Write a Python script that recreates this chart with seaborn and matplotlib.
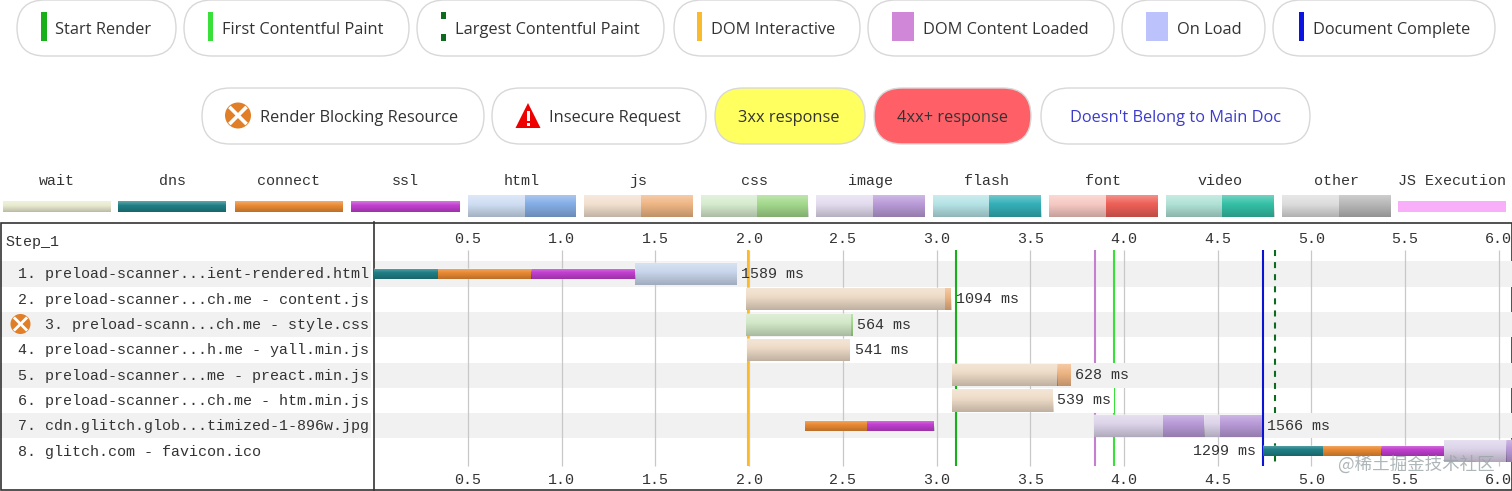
import numpy as np
import matplotlib
matplotlib.use("Agg")
import matplotlib.pyplot as plt
from matplotlib.patches import FancyBboxPatch, Rectangle, Circle, Polygon
from matplotlib.transforms import ScaledTranslation
import seaborn as sns

# ---------- data ----------
request_labels = [
    "1. preload-scanner...ient-rendered.html",
    "2. preload-scanner...ch.me - content.js",
    "   3. preload-scann...ch.me - style.css",
    "4. preload-scanner...h.me - yall.min.js",
    "5. preload-scanner...me - preact.min.js",
    "6. preload-scanner...ch.me - htm.min.js",
    "7. cdn.glitch.glob...timized-1-896w.jpg",
    "8. glitch.com - favicon.ico",
]
time_ticks = [0.5, 1.0, 1.5, 2.0, 2.5, 3.0, 3.5, 4.0, 4.5, 5.0, 5.5, 6.0]

segment_rows = [0, 0, 0, 0,
                1, 1,
                2, 2,
                3,
                4, 4,
                5,
                6, 6, 6, 6, 6, 6,
                7, 7, 7, 7, 7]
segment_kinds = ["dns", "connect", "ssl", "html",
                 "js", "js_dark",
                 "css", "css_dark",
                 "js",
                 "js", "js_dark",
                 "js",
                 "connect", "ssl", "image", "image_dark", "image", "image_dark",
                 "dns", "connect", "ssl", "image", "image_dark"]
segment_starts = [0.0, 0.338, 0.835, 1.391,
                  1.985, 3.043,
                  1.985, 2.545,
                  1.990,
                  3.082, 3.645,
                  3.082,
                  2.300, 2.627, 3.842, 4.210, 4.430, 4.515,
                  4.742, 5.060, 5.372, 5.708, 6.040]
segment_ends = [0.338, 0.835, 1.391, 1.934,
                3.043, 3.080,
                2.545, 2.552,
                2.537,
                3.645, 3.717,
                3.622,
                2.627, 2.985, 4.210, 4.430, 4.515, 4.737,
                5.060, 5.372, 5.708, 6.040, 6.075]

duration_labels = ["1589 ms", "1094 ms", "564 ms", "541 ms", "628 ms", "539 ms", "1566 ms", "1299 ms"]
duration_anchor = [1.934, 3.085, 2.557, 2.542, 3.717, 3.622, 4.742, 4.742]

event_names = ["DOM Interactive", "Start Render", "DOM Content Loaded", "First Contentful Paint", "Document Complete", "Largest Contentful Paint"]
event_times = [1.994, 3.105, 3.847, 3.949, 4.740, 4.804]
event_colors = ["#f9bb2d", "#18b018", "#c67fd0", "#39e039", "#0b14d0", "#0d6b1f"]

kind_colors = {
    "dns": "#1f7f86", "connect": "#ea8a33", "ssl": "#c23fd0",
    "html": "#c9d7ec", "js": "#eedcc8", "js_dark": "#efb684",
    "css": "#d3e9c8", "css_dark": "#a3d98c", "image": "#ddd4ea", "image_dark": "#b99bd8",
}

pill_row1 = ["Start Render", "First Contentful Paint", "Largest Contentful Paint", "DOM Interactive",
             "DOM Content Loaded", "On Load", "Document Complete"]
pill_row2 = ["Render Blocking Resource", "Insecure Request", "3xx response", "4xx+ response",
             "Doesn't Belong to Main Doc"]
swatch_names = ["wait", "dns", "connect", "ssl", "html", "js", "css", "image", "flash", "font", "video", "other", "JS Execution"]
swatch_light = ["#e9ebcf", "#1f7f86", "#ea8a33", "#c23fd0", "#cfdef3", "#f2e0cf", "#d6ecce", "#e3dcef",
                "#b5e3e6", "#f7c9c3", "#b0e2d6", "#dddddd", "#f8aef8"]
swatch_dark = [None, None, None, None, "#85aee6", "#efb684", "#a3d98c", "#b99bd8",
               "#35b0b8", "#ee6058", "#35c0a6", "#b8b8b8", None]

# ---------- theme ----------
sns.set_theme(style="white")
plt.rcParams["font.family"] = ["Liberation Mono", "DejaVu Sans"]
MONO = 10.8
UI = ["Open Sans", "DejaVu Sans"]
UI_SIZE = 11.8
INK = "#333333"
BAND = "#f1f1f1"

W, H = 1512, 491
fig = plt.figure(figsize=(W / 100, H / 100), dpi=100, facecolor="white")

# ---------- pixel overlay for the legends and left panel ----------
bg = fig.add_axes([0, 0, 1, 1])
bg.set_xlim(0, W)
bg.set_ylim(H, 0)
bg.axis("off")


def pill(x0, x1, y0, y1, face="white", edge="#d8d8d8"):
    r = (y1 - y0) / 2
    bg.add_patch(FancyBboxPatch((x0 + r, y0 + r), x1 - x0 - 2 * r, 0.01,
                                boxstyle=f"round,pad={r - 0.01},rounding_size={r}",
                                fc=face, ec=edge, lw=1.0))


row1_x = [(17, 176), (184, 409), (417, 664), (674, 860), (868, 1114), (1122, 1265), (1273, 1495)]
row1_tx = [55, 222, 455, 711, 923, 1177, 1313]
for (a, b), tx, name in zip(row1_x, row1_tx, pill_row1):
    pill(a, b, 0, 56)
    bg.text(tx, 29.5, name, family=UI, fontsize=UI_SIZE, color="#333333", ha="left", va="center")


def mark(x0, x1, y0, y1, c):
    bg.add_patch(Rectangle((x0, y0), x1 - x0, y1 - y0, fc=c, ec="none"))


mark(41, 46.5, 12, 41, "#18b018")
mark(208, 213, 12, 41, "#39e039")
mark(441, 446.4, 12, 19, "#0d6b1f")
mark(441, 446.4, 34, 41, "#0d6b1f")
mark(696.5, 702, 12, 41, "#f9bb2d")
mark(892, 914, 12, 41, "#d087d8")
mark(1146, 1168, 12, 41, "#bcc2fb")
mark(1298.6, 1304, 12, 41, "#0b14e0")

row2_x = [(202, 484), (492, 706), (715, 865), (874, 1031), (1041, 1310)]
row2_tx = [260, 549, 738, 897, 1070]
row2_face = ["white", "white", "#ffff60", "#ff6068", "white"]
row2_ink = ["#333333", "#333333", "#333333", "#333333", "#3c3ccc"]
for (a, b), tx, name, f, c in zip(row2_x, row2_tx, pill_row2, row2_face, row2_ink):
    pill(a, b, 88, 144, face=f)
    bg.text(tx, 117.5, name, family=UI, fontsize=UI_SIZE, color=c, ha="left", va="center")


def blocking_icon(cx, cy, r):
    bg.add_patch(Circle((cx, cy), r, fc="#e07f28", ec="none", zorder=5))
    d = r * 0.66
    lw = r * 0.2
    bg.plot([cx - d, cx + d], [cy - d, cy + d], color="white", lw=lw, zorder=6, solid_capstyle="butt")
    bg.plot([cx - d, cx + d], [cy + d, cy - d], color="white", lw=lw, zorder=6, solid_capstyle="butt")


blocking_icon(238, 115.5, 13)
bg.add_patch(Polygon([(528, 103), (515.5, 128), (540.5, 128)], fc="#ee0000", ec="none"))
mark(526.5, 529.5, 111, 121, "white")
mark(526.5, 529.5, 122.5, 126, "white")

# swatches
swatch_x = [(2.5, 110.5), (118, 226), (235, 343), (351, 459.5), (468, 576), (584, 693), (700.5, 808),
            (816, 924.5), (932.7, 1041), (1049, 1158), (1165.8, 1274), (1282, 1390.7), (1398, 1506)]
t = np.linspace(0, 1, 32)
gradient = np.zeros((32, 1, 4))
gradient[..., 0:3] = (t <= 0.4)[:, None, None] * 1.0
gradient[..., 3] = np.where(t <= 0.4, 0.30 * (0.4 - t) / 0.4, 0.20 * (t - 0.4) / 0.6)[:, None]

for name, (a, b), lc, dc in zip(swatch_names, swatch_x, swatch_light, swatch_dark):
    y0, y1 = (195, 217) if dc else (201, 212)
    bg.text((a + b) / 2, 181, name, fontsize=MONO, color=INK, ha="center", va="center")
    if dc:
        m = (a + b) / 2 + 2.5
        mark(a, m, y0, y1, lc)
        mark(m, b, y0, y1, dc)
    else:
        mark(a, b, y0, y1, lc)
    if name != "JS Execution":
        bg.imshow(gradient, extent=(a, b, y1, y0), aspect="auto", zorder=3, interpolation="bilinear")
bg.set_xlim(0, W)
bg.set_ylim(H, 0)

# left panel
for i in (0, 2, 4, 6):
    yc = 274 + 25.3 * i
    mark(0, 371, yc - 12.6, yc + 12.6, BAND)
bg.text(5, 242, "Step_1", fontsize=MONO, color=INK, ha="left", va="center")
blocking_icon(20.5, 324, 10)
bg.add_patch(Rectangle((0.5, 222.5), W - 1, 267.5, fc="none", ec="#333333", lw=1.2))

# ---------- waterfall ----------
ax_left, ax_top, ax_bottom = 374.3, 222.5, 490
ax = fig.add_axes([ax_left / W, 1 - ax_bottom / H, (W - ax_left) / W, (ax_bottom - ax_top) / H])
ax.patch.set_alpha(0)

PX_X = 187.4
PX_Y = 25.3
xlim = (0, (W - ax_left) / PX_X)
ylim = ((ax_bottom - 274) / PX_Y, (ax_top - 274) / PX_Y)

for i in (0, 2, 4, 6):
    ax.add_patch(Rectangle((0, i - 0.5), xlim[1], 1, fc=BAND, ec="none", zorder=0))

grid_top, grid_bottom = (250 - 274) / PX_Y, (466 - 274) / PX_Y
ax.vlines(time_ticks, grid_top, grid_bottom, color="#c8c8c8", lw=0.9, zorder=1)

for name, tm, c in zip(event_names, event_times, event_colors):
    ls = (0, (2.9, 2.9)) if name.startswith("Largest") else "-"
    ax.vlines(tm, grid_top, grid_bottom, color=c, lw=1.5, linestyle=ls, zorder=2)

for row, kind, s, e in zip(segment_rows, segment_kinds, segment_starts, segment_ends):
    thin = kind in ("dns", "connect", "ssl")
    h = 0.40 if thin else 0.87
    sns.barplot(x=[e - s], y=[row], left=s, orient="h", native_scale=True, width=h,
                color=kind_colors[kind], saturation=1, errorbar=None, linewidth=0,
                ax=ax, zorder=3)
    ax.imshow(gradient, extent=(s, e, row + h / 2, row - h / 2), aspect="auto",
              zorder=3.5, interpolation="bilinear")

for row, (lab, anchor) in enumerate(zip(duration_labels, duration_anchor)):
    if row == 7:
        ax.text(anchor - 7 / PX_X, row, lab, fontsize=MONO, color=INK, ha="right", va="center", zorder=5)
    else:
        if row in (4, 5, 6):
            ax.add_patch(Rectangle((anchor + 2 / PX_X, row - 0.5), (len(lab) * 9 + 5) / PX_X, 1,
                                   fc=BAND if row % 2 == 0 else "white", ec="none", zorder=4))
        ax.text(anchor + 4 / PX_X, row, lab, fontsize=MONO, color=INK, ha="left", va="center", zorder=5)

ax.set_xlim(*xlim)
ax.set_ylim(*ylim)
ax.set_xlabel("")
ax.set_ylabel("")
ax.set_xticks(time_ticks, [f"{v:.1f}" for v in time_ticks])
ax.set_yticks(range(len(request_labels)), request_labels)
ax.tick_params(axis="x", length=0, top=False, bottom=False, labeltop=True, labelbottom=True,
               pad=-12, labelsize=MONO, labelcolor=INK)
ax.tick_params(axis="y", length=0, left=False, pad=(ax_left - 18) * 0.72, labelsize=MONO, labelcolor=INK)
up_one_px = ScaledTranslation(0, 1 / 100, fig.dpi_scale_trans)
for lab in ax.get_yticklabels():
    lab.set_ha("left")
    lab.set_transform(lab.get_transform() + up_one_px)
for tick in ax.xaxis.get_major_ticks():
    tick.label2.set_va("center")
    tick.label1.set_va("top")
for side, spine in ax.spines.items():
    spine.set_visible(side == "left")
    spine.set_color("#333333")
    spine.set_linewidth(1.2)

# watermark
fig.text(1338 / W, 1 - 465 / H, "@稀土掘金技术社区", family=["Noto Sans CJK SC", "DejaVu Sans"],
         fontsize=12.6, color="#9aa4a8", alpha=0.8, ha="left", va="center", zorder=10)

fig.savefig("out.png", dpi=100)
